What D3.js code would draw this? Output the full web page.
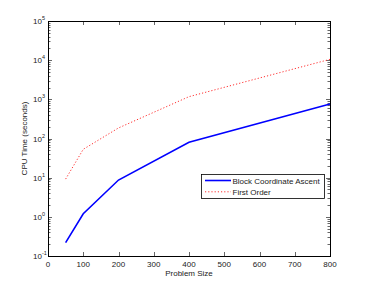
<!DOCTYPE html>
<html><head><meta charset="utf-8">
<script src="https://cdn.jsdelivr.net/npm/d3@7"></script>
<style>
body{margin:0;background:#fff;}
svg{display:block;font-family:"Liberation Sans",Arial,Helvetica,sans-serif;}
</style></head>
<body>
<script>
const problemSizes = [50, 100, 200, 400, 800];
const blockCoordinateAscent = [0.22, 1.2, 8.7, 80, 760];
const firstOrder = [9.2, 53, 186, 1170, 10500];
const seriesNames = ["Block Coordinate Ascent", "First Order"];
const xTicks = [0, 100, 200, 300, 400, 500, 600, 700, 800];
const yTickExps = [-1, 0, 1, 2, 3, 4, 5];

const W = 366, H = 289;
const m = {left: 48, right: 36, top: 21, bottom: 33};
const svg = d3.select("body").append("svg").attr("width", W).attr("height", H);

const x = d3.scaleLinear().domain([0, 800]).range([m.left, W - m.right]);
const y = d3.scaleLog().domain([0.1, 1e5]).range([H - m.bottom, m.top]);

const x0 = x.range()[0], x1 = x.range()[1], y0 = y.range()[0], y1 = y.range()[1];

// minor ticks
const minor = [];
for (let e = -1; e < 5; e++) for (let k = 2; k <= 9; k++) minor.push(k * Math.pow(10, e));
const g = svg.append("g").attr("stroke", "#000").attr("stroke-width", 0.6);
minor.forEach(v => {
  const yy = Math.round(y(v)) + 0.5;
  g.append("line").attr("x1", x0).attr("x2", x0 + 2.5).attr("y1", yy).attr("y2", yy);
  g.append("line").attr("x1", x1).attr("x2", x1 - 2.5).attr("y1", yy).attr("y2", yy);
});
yTickExps.forEach(e => {
  const yy = Math.round(y(Math.pow(10, e))) + 0.5;
  g.append("line").attr("x1", x0).attr("x2", x0 + 4).attr("y1", yy).attr("y2", yy);
  g.append("line").attr("x1", x1).attr("x2", x1 - 4).attr("y1", yy).attr("y2", yy);
});
xTicks.forEach(t => {
  const xx = Math.round(x(t)) + 0.5;
  g.append("line").attr("x1", xx).attr("x2", xx).attr("y1", y0).attr("y2", y0 - 4);
  g.append("line").attr("x1", xx).attr("x2", xx).attr("y1", y1).attr("y2", y1 + 4);
});

// frame
svg.append("rect").attr("x", x0 + 0.5).attr("y", y1 + 0.5)
  .attr("width", x1 - x0).attr("height", y0 - y1)
  .attr("fill", "none").attr("stroke", "#000").attr("stroke-width", 1);

// tick labels
const tl = svg.append("g").attr("font-size", 8).attr("fill", "#222");
xTicks.forEach(t => {
  tl.append("text").attr("x", x(t)).attr("y", y0 + 10.5).attr("text-anchor", "middle").text(t);
});
yTickExps.forEach(e => {
  const t = tl.append("text").attr("x", 42).attr("y", y(Math.pow(10, e)) + 3).attr("text-anchor", "end");
  t.append("tspan").text("10");
  t.append("tspan").attr("font-size", 5.5).attr("dy", -4).text(e);
});
// we need superscript to the right of "10": re-anchor
tl.selectAll("text").filter(function(){return this.childNodes.length===2;})
  .attr("text-anchor", "start").attr("x", function(){return 42 - 9;});

// axis labels
svg.append("text").attr("x", (x0 + x1) / 2).attr("y", 276).attr("text-anchor", "middle")
  .attr("font-size", 8).attr("fill", "#222").text("Problem Size");
svg.append("text").attr("transform", `translate(27,${(y0 + y1) / 2}) rotate(-90)`)
  .attr("text-anchor", "middle").attr("font-size", 8).attr("fill", "#222").text("CPU Time (seconds)");

// lines
const line = d3.line().x((d, i) => x(problemSizes[i])).y(d => y(d));
svg.append("path").datum(firstOrder).attr("d", line).attr("fill", "none")
  .attr("stroke", "#ff3030").attr("stroke-width", 1).attr("stroke-dasharray", "1.2,2");
svg.append("path").datum(blockCoordinateAscent).attr("d", line).attr("fill", "none")
  .attr("stroke", "#0000ff").attr("stroke-width", 1.6);

// legend
const lg = svg.append("g");
lg.append("rect").attr("x", 201.5).attr("y", 174.5).attr("width", 123).attr("height", 24)
  .attr("fill", "#fff").attr("stroke", "#000").attr("stroke-width", 0.8);
const styles = [
  {stroke: "#0000ff", w: 1.6, dash: null},
  {stroke: "#ff3030", w: 1, dash: "1.2,2"}
];
seriesNames.forEach((n, i) => {
  const yy = 180.5 + i * 11.3;
  lg.append("line").attr("x1", 205).attr("x2", 231).attr("y1", yy).attr("y2", yy)
    .attr("stroke", styles[i].stroke).attr("stroke-width", styles[i].w)
    .attr("stroke-dasharray", styles[i].dash);
  lg.append("text").attr("x", 232.5).attr("y", yy + 3).attr("font-size", 8).attr("fill", "#222").text(n);
});
</script>
</body></html>
